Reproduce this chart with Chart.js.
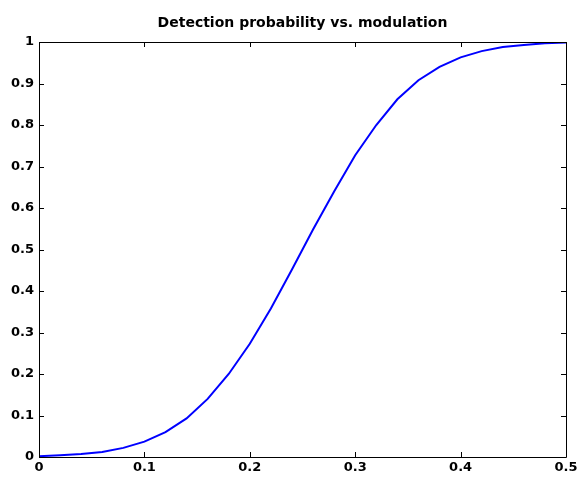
<!DOCTYPE html>
<html>
<head>
<meta charset="utf-8">
<script src="https://cdn.jsdelivr.net/npm/chart.js@4/dist/chart.umd.min.js"></script>
<style>
html,body{margin:0;padding:0;background:#fff;}
#wrap{width:577px;height:478px;position:relative;}
</style>
</head>
<body>
<div id="wrap"><canvas id="c" width="577" height="478"></canvas></div>
<script>
const titleText = "Detection probability vs. modulation";
const modulation = [0,0.02,0.04,0.06,0.08,0.10,0.12,0.14,0.16,0.18,0.20,0.22,0.24,0.26,0.28,0.30,0.32,0.34,0.36,0.38,0.40,0.42,0.44,0.46,0.48,0.50];
const detectionProb = [0.002,0.004,0.007,0.012,0.022,0.037,0.060,0.093,0.140,0.200,0.273,0.358,0.452,0.548,0.640,0.727,0.800,0.862,0.908,0.940,0.963,0.978,0.988,0.993,0.997,0.999];
const xTicks = [0,0.1,0.2,0.3,0.4,0.5];
const yTicks = [0,0.1,0.2,0.3,0.4,0.5,0.6,0.7,0.8,0.9,1];

const points = modulation.map((x,i)=>({x:x,y:detectionProb[i]}));
const FONT = '"DejaVu Sans", Verdana, sans-serif';

const boxTicks = {
  id:'boxTicks',
  afterLayout(chart){
    // center the title over the plot area, as in the reference
    const tb = chart.titleBlock;
    if (tb) {
      tb.left = chart.chartArea.left;
      tb.right = chart.chartArea.right;
      tb.width = tb.right - tb.left;
    }
  },
  afterDraw(chart){
    const ctx = chart.ctx, a = chart.chartArea;
    const xs = chart.scales.x, ys = chart.scales.y;
    ctx.save();
    ctx.strokeStyle = '#000';
    ctx.lineWidth = 1;
    ctx.beginPath();
    const L = 5;
    xs.ticks.forEach(t=>{
      const p = Math.round(xs.getPixelForValue(t.value))+0.5;
      ctx.moveTo(p, a.bottom); ctx.lineTo(p, a.bottom-L);
      ctx.moveTo(p, a.top); ctx.lineTo(p, a.top+L);
    });
    ys.ticks.forEach(t=>{
      const p = Math.round(ys.getPixelForValue(t.value))+0.5;
      ctx.moveTo(a.left, p); ctx.lineTo(a.left+L, p);
      ctx.moveTo(a.right, p); ctx.lineTo(a.right-L, p);
    });
    ctx.stroke();
    ctx.beginPath();
    ctx.rect(Math.round(a.left)+0.5, Math.round(a.top)+0.5, Math.round(a.right-a.left), Math.round(a.bottom-a.top));
    ctx.stroke();
    ctx.restore();
  }
};

new Chart(document.getElementById('c'), {
  type:'line',
  data:{datasets:[{
    data:points,
    borderColor:'#0000ff',
    borderWidth:2,
    pointRadius:0,
    tension:0,
    fill:false
  }]},
  options:{
    responsive:false,
    animation:false,
    layout:{padding:{left:0,right:11,top:0,bottom:0}},
    plugins:{
      legend:{display:false},
      tooltip:{enabled:false},
      title:{
        display:true,
        text:titleText,
        color:'#000',
        font:{family:FONT,size:14,weight:'bold',lineHeight:1.2},
        padding:{top:14.8,bottom:10.4}
      }
    },
    scales:{
      x:{
        type:'linear',
        min:0,max:0.5,
        afterBuildTicks(s){ s.ticks = xTicks.map(v=>({value:v})); },
        afterFit(s){ s.height = 21; s.paddingLeft = 0; s.paddingRight = 0; },
        grid:{display:false,drawTicks:false},
        border:{display:false},
        ticks:{
          color:'#000',padding:3,maxRotation:0,
          font:{family:FONT,size:13,weight:'bold'},
          callback:(v)=>String(+v.toFixed(2))
        }
      },
      y:{
        type:'linear',
        min:0,max:1,
        afterBuildTicks(s){ s.ticks = yTicks.map(v=>({value:v})); },
        afterFit(s){ s.width = 39; s.paddingTop = 0; s.paddingBottom = 0; },
        grid:{display:false,drawTicks:false},
        border:{display:false},
        ticks:{
          color:'#000',padding:5,
          font:{family:FONT,size:13,weight:'bold'},
          callback:(v)=>String(+v.toFixed(2))
        }
      }
    }
  },
  plugins:[boxTicks]
});
</script>
</body>
</html>
